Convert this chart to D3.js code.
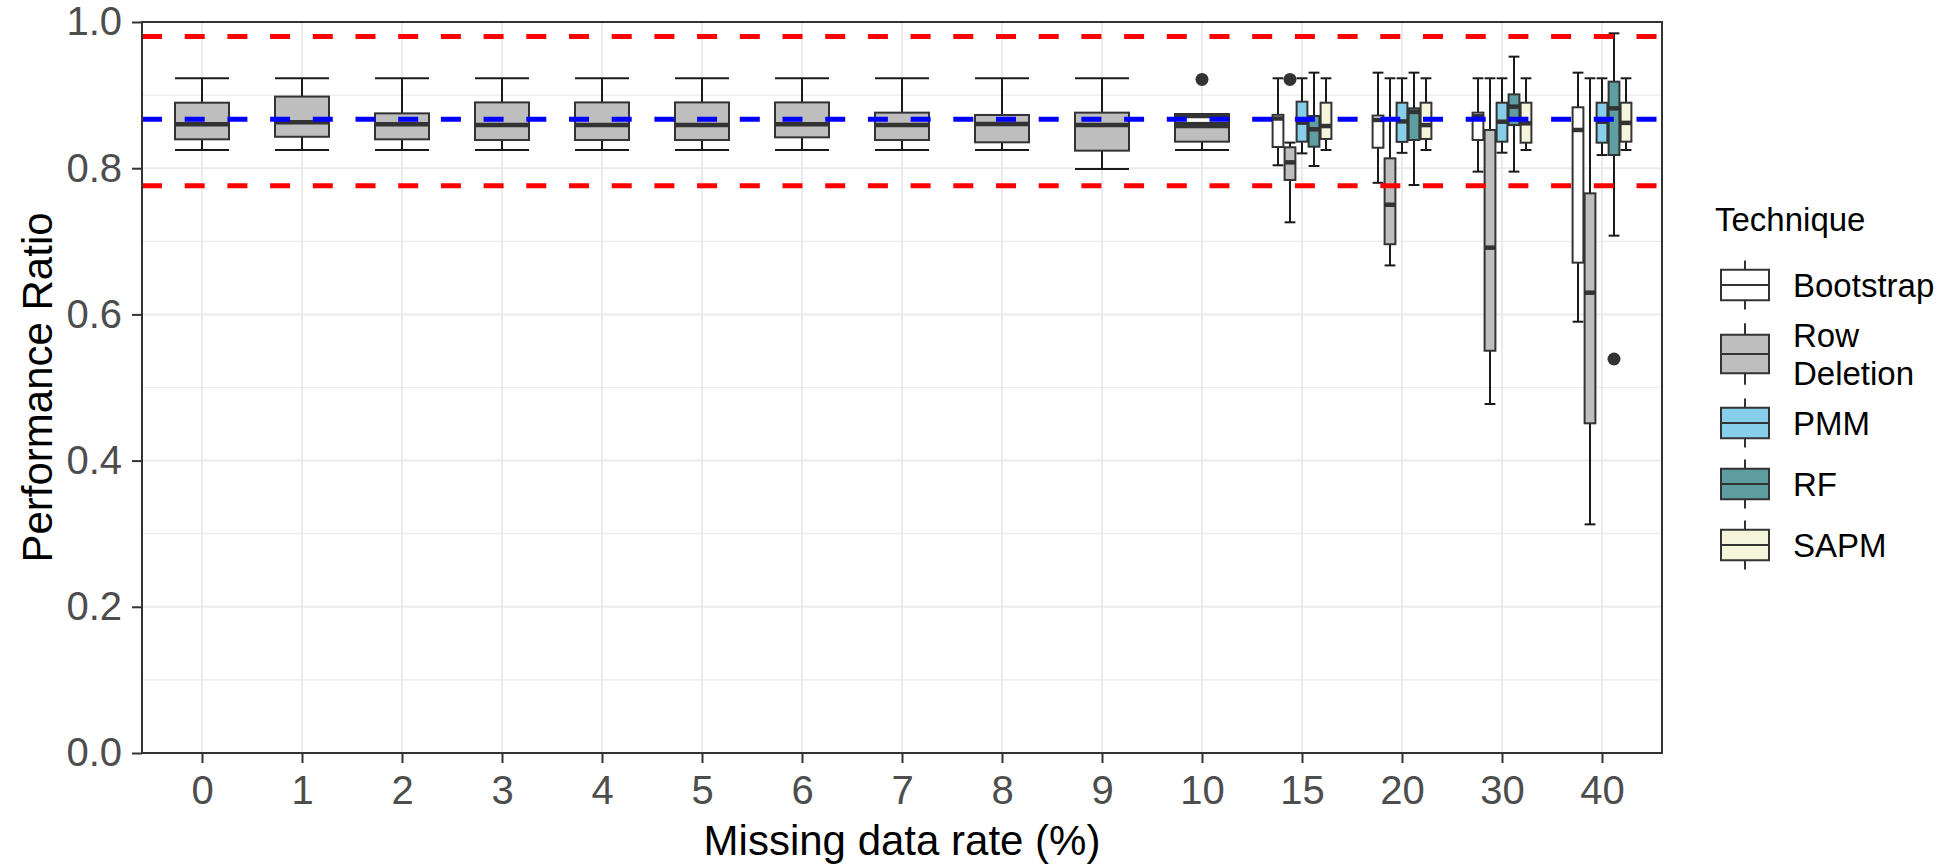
<!DOCTYPE html>
<html>
<head>
<meta charset="utf-8">
<script src="https://cdn.jsdelivr.net/npm/d3@7"></script>
<style>
  body { margin: 0; background: #fff; }
  text { font-family: "Liberation Sans", Arial, sans-serif; }
</style>
</head>
<body>
<svg id="chart" width="1957" height="864"></svg>
<script>
// Categories (missing data rate) and techniques
var categories = ["0", "1", "2", "3", "4", "5", "6", "7", "8", "9", "10", "15", "20", "30", "40"];
var techniques = ["Bootstrap", "Row Deletion", "PMM", "RF", "SAPM"];
var legendLabels = [["Bootstrap"], ["Row", "Deletion"], ["PMM"], ["RF"], ["SAPM"]];
var dodgedCategories = ["15", "20", "30", "40"];

// Box stats per category: [lower whisker, q1, median, q3, upper whisker]
var bootstrapStats = [null, null, null, null, null, null, null, null, null, null,
  [0.862, 0.862, 0.8715, 0.8737, 0.8737],
  [0.804, 0.829, 0.868, 0.873, 0.923],
  [0.780, 0.828, 0.866, 0.872, 0.9307],
  [0.7953, 0.8386, 0.871, 0.876, 0.923],
  [0.590, 0.6708, 0.8523, 0.8833, 0.9307]];
var rowDeletionStats = [
  [0.825, 0.8395, 0.860, 0.8896, 0.923],
  [0.825, 0.843, 0.863, 0.898, 0.923],
  [0.825, 0.8395, 0.860, 0.875, 0.923],
  [0.825, 0.8386, 0.859, 0.890, 0.923],
  [0.825, 0.8386, 0.859, 0.890, 0.923],
  [0.825, 0.8386, 0.859, 0.890, 0.923],
  [0.825, 0.8422, 0.860, 0.890, 0.923],
  [0.825, 0.8386, 0.859, 0.876, 0.923],
  [0.825, 0.8354, 0.8605, 0.8728, 0.923],
  [0.799, 0.824, 0.859, 0.876, 0.923],
  [0.825, 0.8363, 0.8578, 0.8737, 0.8737],
  [0.726, 0.7839, 0.808, 0.8286, 0.835],
  [0.667, 0.696, 0.750, 0.8135, 0.923],
  [0.4774, 0.5503, 0.6913, 0.8523, 0.923],
  [0.3128, 0.451, 0.6297, 0.7656, 0.923]];
var pmmStats = [null, null, null, null, null, null, null, null, null, null, null,
  [0.8203, 0.8363, 0.8623, 0.891, 0.923],
  [0.821, 0.836, 0.864, 0.8896, 0.923],
  [0.8212, 0.8363, 0.8636, 0.8896, 0.923],
  [0.818, 0.8349, 0.8636, 0.8896, 0.923]];
var rfStats = [null, null, null, null, null, null, null, null, null, null, null,
  [0.803, 0.8294, 0.8532, 0.8714, 0.9307],
  [0.777, 0.8386, 0.877, 0.8819, 0.9307],
  [0.7953, 0.859, 0.8842, 0.901, 0.9526],
  [0.7077, 0.818, 0.8819, 0.9184, 0.9845]];
var sapmStats = [null, null, null, null, null, null, null, null, null, null, null,
  [0.8249, 0.840, 0.8577, 0.8896, 0.923],
  [0.8249, 0.840, 0.859, 0.8896, 0.923],
  [0.8249, 0.8349, 0.8614, 0.8896, 0.923],
  [0.8249, 0.8363, 0.862, 0.8896, 0.923]];

var outliers = [
  { category: "10", technique: "Row Deletion", value: 0.9215 },
  { category: "15", technique: "Row Deletion", value: 0.9215 },
  { category: "40", technique: "RF", value: 0.539 }];

// Reference lines
var redLines = [0.980, 0.776];
var blueLine = 0.867;

var yTicks = [0, 0.2, 0.4, 0.6, 0.8, 1.0];
var yMinor = [0.1, 0.3, 0.5, 0.7, 0.9];

var fills = { "Bootstrap": "#FFFFFF", "Row Deletion": "#BEBEBE", "PMM": "#87CEEB", "RF": "#5F9EA0", "SAPM": "#F5F5DC" };
var statsByTech = { "Bootstrap": bootstrapStats, "Row Deletion": rowDeletionStats, "PMM": pmmStats, "RF": rfStats, "SAPM": sapmStats };

// Panel area
var panel = { left: 142, right: 1662, top: 22, bottom: 753 };

var svg = d3.select("#chart");

var x = d3.scalePoint()
  .domain(categories)
  .range([panel.left, panel.right])
  .padding(0.6);

var y = d3.scaleLinear()
  .domain([0, 1])
  .range([panel.bottom, panel.top]);

var step = x.step();

// Grid
var grid = svg.append("g");
grid.selectAll(".minor").data(yMinor).enter().append("line")
  .attr("x1", panel.left).attr("x2", panel.right)
  .attr("y1", d => y(d)).attr("y2", d => y(d))
  .attr("stroke", "#EBEBEB").attr("stroke-width", 1.2);
grid.selectAll(".major").data(yTicks).enter().append("line")
  .attr("x1", panel.left).attr("x2", panel.right)
  .attr("y1", d => y(d)).attr("y2", d => y(d))
  .attr("stroke", "#EBEBEB").attr("stroke-width", 2);
grid.selectAll(".vmajor").data(categories).enter().append("line")
  .attr("x1", d => x(d)).attr("x2", d => x(d))
  .attr("y1", panel.top).attr("y2", panel.bottom)
  .attr("stroke", "#EBEBEB").attr("stroke-width", 2);

// Build box items with dodging
var items = [];
categories.forEach(function(cat, ci) {
  var present = techniques.filter(t => statsByTech[t][ci]);
  var dodged = dodgedCategories.indexOf(cat) >= 0;
  var n = dodged ? present.length : 1;
  var slot = 0.6 * step / n;
  present.forEach(function(t, i) {
    var s = statsByTech[t][ci];
    var cx = dodged ? x(cat) + (i - (n - 1) / 2) * slot : x(cat);
    items.push({ cat: cat, tech: t, cx: cx, w: slot * 0.9, lo: s[0], q1: s[1], med: s[2], q3: s[3], hi: s[4],
      order: (!dodged && t !== "Row Deletion") ? 1 : 0 });
  });
});
items.sort((a, b) => a.order - b.order);

var boxes = svg.append("g");
items.forEach(function(d) {
  var g = boxes.append("g");
  // whisker (errorbar)
  g.append("line").attr("x1", d.cx).attr("x2", d.cx)
    .attr("y1", y(d.lo)).attr("y2", y(d.hi))
    .attr("stroke", "#1a1a1a").attr("stroke-width", 2);
  [d.lo, d.hi].forEach(function(v) {
    g.append("line").attr("x1", d.cx - d.w / 2).attr("x2", d.cx + d.w / 2)
      .attr("y1", y(v)).attr("y2", y(v))
      .attr("stroke", "#1a1a1a").attr("stroke-width", 2);
  });
  g.append("rect")
    .attr("x", d.cx - d.w / 2).attr("width", d.w)
    .attr("y", y(d.q3)).attr("height", y(d.q1) - y(d.q3))
    .attr("fill", fills[d.tech]).attr("stroke", "#333333").attr("stroke-width", 2);
  g.append("line").attr("x1", d.cx - d.w / 2).attr("x2", d.cx + d.w / 2)
    .attr("y1", y(d.med)).attr("y2", y(d.med))
    .attr("stroke", "#333333").attr("stroke-width", 4.5);
});

// Outliers
svg.append("g").selectAll("circle").data(outliers).enter().append("circle")
  .attr("cx", function(d) {
    var item = items.find(it => it.cat === d.category && it.tech === d.technique);
    return item.cx;
  })
  .attr("cy", d => y(d.value))
  .attr("r", 6.5)
  .attr("fill", "#333333");

// Reference lines
var refs = svg.append("g");
refs.selectAll(".red").data(redLines).enter().append("line")
  .attr("x1", panel.left).attr("x2", panel.right)
  .attr("y1", d => y(d)).attr("y2", d => y(d))
  .attr("stroke", "#FF0000").attr("stroke-width", 5)
  .attr("stroke-dasharray", "20,22.7");
refs.append("line")
  .attr("x1", panel.left).attr("x2", panel.right)
  .attr("y1", y(blueLine)).attr("y2", y(blueLine))
  .attr("stroke", "#0000FF").attr("stroke-width", 5)
  .attr("stroke-dasharray", "20,22.7");

// Panel border
svg.append("rect")
  .attr("x", panel.left).attr("y", panel.top)
  .attr("width", panel.right - panel.left).attr("height", panel.bottom - panel.top)
  .attr("fill", "none").attr("stroke", "#333333").attr("stroke-width", 2);

// Axes
var leftAxis = d3.axisLeft(y).tickValues(yTicks).tickFormat(d3.format(".1f")).tickSize(10).tickPadding(10);
var bottomAxis = d3.axisBottom(x).tickSize(10).tickPadding(13);

var gy = svg.append("g").attr("transform", `translate(${panel.left},0)`).call(leftAxis);
var gx = svg.append("g").attr("transform", `translate(0,${panel.bottom})`).call(bottomAxis);
[gx, gy].forEach(function(g) {
  g.select(".domain").remove();
  g.selectAll(".tick line").attr("stroke", "#333333").attr("stroke-width", 2);
  g.selectAll(".tick text").attr("fill", "#4D4D4D").style("font-size", "40px");
});

// Axis titles
svg.append("text")
  .attr("x", (panel.left + panel.right) / 2).attr("y", 855)
  .attr("text-anchor", "middle").style("font-size", "42px").attr("fill", "#000")
  .text("Missing data rate (%)");
svg.append("text")
  .attr("transform", `translate(52,${(panel.top + panel.bottom) / 2}) rotate(-90)`)
  .attr("text-anchor", "middle").style("font-size", "42px").attr("fill", "#000")
  .text("Performance Ratio");

// Legend
var legend = svg.append("g");
legend.append("text").attr("x", 1715).attr("y", 231)
  .style("font-size", "33px").attr("fill", "#000").text("Technique");

var keyCenter = 285;
var prevH = null;
techniques.forEach(function(t, i) {
  var lines = legendLabels[i];
  var h = lines.length > 1 ? 77 : 61;
  if (prevH !== null) keyCenter += (prevH + h) / 2;
  prevH = h;
  var kx = 1721, kw = 48;
  var g = legend.append("g");
  g.append("line").attr("x1", kx + kw / 2).attr("x2", kx + kw / 2)
    .attr("y1", keyCenter - h * 0.4).attr("y2", keyCenter + h * 0.4)
    .attr("stroke", "#333333").attr("stroke-width", 2);
  g.append("rect").attr("x", kx).attr("width", kw)
    .attr("y", keyCenter - h * 0.25).attr("height", h * 0.5)
    .attr("fill", fills[t]).attr("stroke", "#333333").attr("stroke-width", 2);
  g.append("line").attr("x1", kx).attr("x2", kx + kw)
    .attr("y1", keyCenter).attr("y2", keyCenter)
    .attr("stroke", "#333333").attr("stroke-width", 2);
  lines.forEach(function(l, li) {
    g.append("text").attr("x", 1793)
      .attr("y", keyCenter + (li - (lines.length - 1) / 2) * 38)
      .attr("dy", "0.35em")
      .style("font-size", "33px").attr("fill", "#000").text(l);
  });
});
</script>
</body>
</html>
